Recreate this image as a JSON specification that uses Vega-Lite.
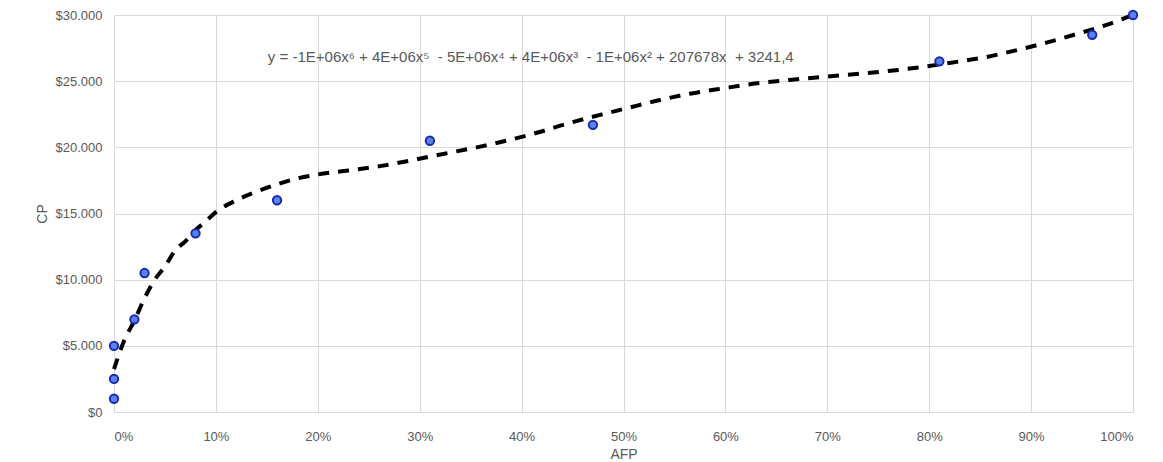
{
  "$schema": "https://vega.github.io/schema/vega-lite/v6.json",
  "autosize": {"type": "none"},
  "width": 1019,
  "height": 397,
  "padding": {"left": 114, "top": 15, "right": 30, "bottom": 50},
  "background": "white",
  "config": {
    "view": {"stroke": null},
    "font": "Liberation Sans",
    "axis": {
      "gridColor": "#d9d9d9",
      "gridWidth": 1,
      "ticks": false,
      "labelColor": "#595959",
      "labelFontSize": 13,
      "titleColor": "#595959",
      "titleFontSize": 14,
      "titleFontWeight": "normal",
      "domain": false
    }
  },
  "datasets": {
    "points": [
      {"AFP": 0.0, "CP": 1000},
      {"AFP": 0.0, "CP": 2500},
      {"AFP": 0.0, "CP": 5000},
      {"AFP": 0.02, "CP": 7000},
      {"AFP": 0.03, "CP": 10500},
      {"AFP": 0.08, "CP": 13500},
      {"AFP": 0.16, "CP": 16000},
      {"AFP": 0.31, "CP": 20500},
      {"AFP": 0.47, "CP": 21700},
      {"AFP": 0.81, "CP": 26500},
      {"AFP": 0.96, "CP": 28500},
      {"AFP": 1.0, "CP": 30000}
    ],
    "trend": [
      {"AFP": 0.0, "CP": 3241},
      {"AFP": 0.01, "CP": 5400},
      {"AFP": 0.02, "CP": 6900},
      {"AFP": 0.03, "CP": 8600},
      {"AFP": 0.04, "CP": 10000},
      {"AFP": 0.05, "CP": 11000},
      {"AFP": 0.06, "CP": 12200},
      {"AFP": 0.07, "CP": 12900},
      {"AFP": 0.08, "CP": 13750},
      {"AFP": 0.09, "CP": 14400},
      {"AFP": 0.10, "CP": 15100},
      {"AFP": 0.12, "CP": 16000},
      {"AFP": 0.14, "CP": 16650},
      {"AFP": 0.16, "CP": 17200},
      {"AFP": 0.18, "CP": 17650},
      {"AFP": 0.20, "CP": 17950},
      {"AFP": 0.23, "CP": 18250},
      {"AFP": 0.261, "CP": 18580},
      {"AFP": 0.294, "CP": 19050},
      {"AFP": 0.323, "CP": 19500},
      {"AFP": 0.356, "CP": 20000},
      {"AFP": 0.385, "CP": 20500},
      {"AFP": 0.415, "CP": 21100},
      {"AFP": 0.444, "CP": 21770},
      {"AFP": 0.477, "CP": 22450},
      {"AFP": 0.503, "CP": 22950},
      {"AFP": 0.536, "CP": 23580},
      {"AFP": 0.565, "CP": 24050},
      {"AFP": 0.598, "CP": 24460},
      {"AFP": 0.631, "CP": 24840},
      {"AFP": 0.663, "CP": 25090},
      {"AFP": 0.693, "CP": 25300},
      {"AFP": 0.726, "CP": 25520},
      {"AFP": 0.758, "CP": 25750},
      {"AFP": 0.791, "CP": 26050},
      {"AFP": 0.82, "CP": 26380},
      {"AFP": 0.853, "CP": 26780},
      {"AFP": 0.884, "CP": 27310},
      {"AFP": 0.915, "CP": 27910},
      {"AFP": 0.945, "CP": 28570},
      {"AFP": 0.974, "CP": 29250},
      {"AFP": 1.0, "CP": 30000}
    ]
  },
  "layer": [
    {
      "data": {"name": "trend"},
      "mark": {
        "type": "line",
        "color": "black",
        "strokeWidth": 4,
        "strokeDash": [11, 9],
        "interpolate": "monotone",
        "clip": false
      },
      "encoding": {
        "x": {
          "field": "AFP",
          "type": "quantitative",
          "scale": {"domain": [0, 1], "nice": false, "zero": true},
          "axis": {
            "format": ".0%",
            "values": [0, 0.1, 0.2, 0.3, 0.4, 0.5, 0.6, 0.7, 0.8, 0.9, 1.0],
            "title": "AFP",
            "labelPadding": 18,
            "titlePadding": 4
          }
        },
        "y": {
          "field": "CP",
          "type": "quantitative",
          "scale": {"domain": [0, 30000], "nice": false},
          "axis": {
            "values": [0, 5000, 10000, 15000, 20000, 25000, 30000],
            "labelExpr": "'$' + replace(format(datum.value, ','), ',', '.')",
            "title": "CP",
            "labelPadding": 12,
            "titlePadding": 6
          }
        }
      }
    },
    {
      "data": {"name": "points"},
      "mark": {
        "type": "point",
        "shape": "circle",
        "filled": true,
        "size": 70,
        "fill": "#5b82ea",
        "fillOpacity": 1,
        "stroke": "#1a2bb0",
        "strokeWidth": 2,
        "clip": false
      },
      "encoding": {
        "x": {"field": "AFP", "type": "quantitative"},
        "y": {"field": "CP", "type": "quantitative"}
      }
    },
    {
      "data": {"values": [{"label": "y = -1E+06x⁶ + 4E+06x⁵ \u00a0- 5E+06x⁴ + 4E+06x³ \u00a0- 1E+06x² + 207678x \u00a0+ 3241,4"}]},
      "mark": {
        "type": "text",
        "fontSize": 15,
        "color": "#595959",
        "align": "center",
        "baseline": "middle"
      },
      "encoding": {
        "x": {"datum": 0.409, "type": "quantitative"},
        "y": {"datum": 26830, "type": "quantitative"},
        "text": {"field": "label", "type": "nominal"}
      }
    }
  ]
}
